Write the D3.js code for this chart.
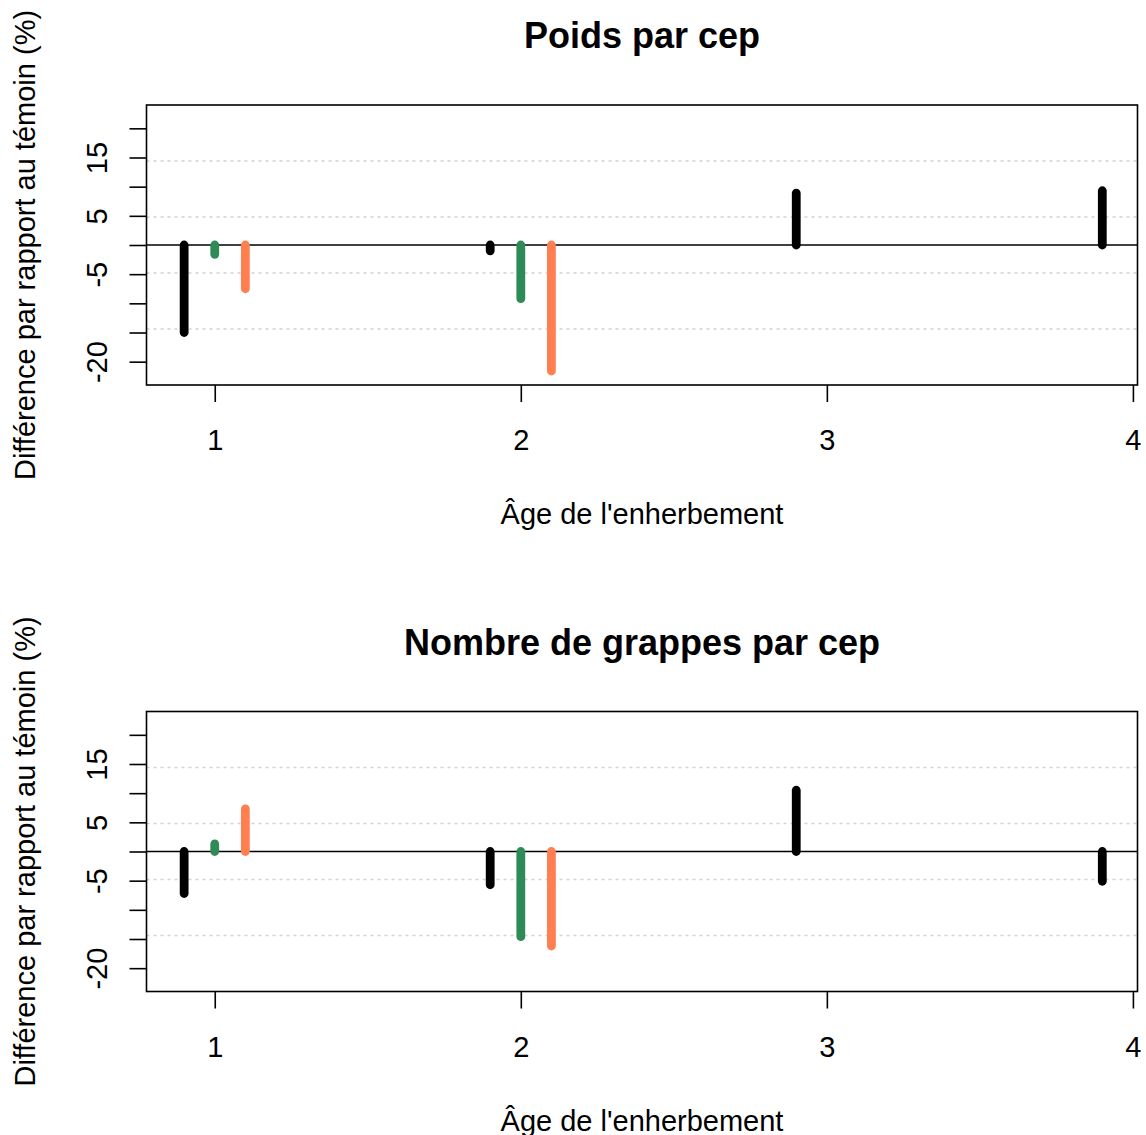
<!DOCTYPE html>
<html>
<head>
<meta charset="utf-8">
<script src="https://cdn.jsdelivr.net/npm/d3@7"></script>
<style>
  html, body { margin: 0; padding: 0; background: #fff; }
  svg { display: block; font-family: "Liberation Sans", Arial, Helvetica, sans-serif; }
</style>
</head>
<body>
<svg id="chart" width="1146" height="1135"></svg>
<script>
// ---- Data ----
const positions = [0.9, 1.0, 1.1, 1.9, 2.0, 2.1, 2.9, 3.9];
const treatments = ["A", "B", "C", "A", "B", "C", "A", "A"];
const poidsParCep = [-15.0, -1.6, -7.5, -1.0, -9.2, -21.6, 8.9, 9.3];
const grappesParCep = [-7.2, 1.3, 7.3, -5.7, -14.6, -16.2, 10.5, -5.1];
const panelTitles = ["Poids par cep", "Nombre de grappes par cep"];
const xTicks = [1, 2, 3, 4];
const yTicks = [-20, -15, -10, -5, 0, 5, 10, 15, 20];
const yTickLabels = [-20, -5, 5, 15];
const xLabel = "Âge de l'enherbement";
const yLabel = "Différence par rapport au témoin (%)";

// ---- Styles ----
const colorOf = { A: "#000000", B: "#2E8B57", C: "#FF7F50" };

const svg = d3.select("#chart");
const boxL = 146.5, boxR = 1137.5;
const panelH = 280;
const panelTops = [105, 711.5];

const x = d3.scaleLinear().domain([0.777, 4.015]).range([boxL, boxR]);

function drawPanel(g, values, title, top) {
  const y = d3.scaleLinear().domain([-24, 24]).range([top + panelH, top]);
  const bottom = top + panelH;

  // grid (5 equal divisions of plot height, like R grid())
  const gridVals = d3.range(1, 5).map(k => 24 - k * 48 / 5);
  g.append("g").selectAll("line").data(gridVals).join("line")
    .attr("x1", boxL).attr("x2", boxR)
    .attr("y1", d => y(d)).attr("y2", d => y(d))
    .attr("stroke", "#d3d3d3").attr("stroke-width", 1.4)
    .attr("stroke-dasharray", "3,4");

  // zero line
  g.append("line")
    .attr("x1", boxL).attr("x2", boxR)
    .attr("y1", y(0)).attr("y2", y(0))
    .attr("stroke", "#000").attr("stroke-width", 1.6);

  // bars
  g.append("g").selectAll("line").data(positions.map((p, i) => ({ p, v: values[i], t: treatments[i] })))
    .join("line")
    .attr("x1", d => x(d.p)).attr("x2", d => x(d.p))
    .attr("y1", y(0)).attr("y2", d => y(d.v))
    .attr("stroke", d => colorOf[d.t])
    .attr("stroke-width", 8.8)
    .attr("stroke-linecap", "round");

  // box
  g.append("rect")
    .attr("x", boxL).attr("y", top)
    .attr("width", boxR - boxL).attr("height", panelH)
    .attr("fill", "none").attr("stroke", "#000").attr("stroke-width", 1.6);

  // x axis
  const xa = g.append("g").attr("transform", `translate(0,${bottom})`)
    .call(d3.axisBottom(x).tickValues(xTicks).tickSize(17).tickFormat(d3.format("d")));
  xa.select(".domain").remove();
  xa.selectAll(".tick line").attr("stroke", "#000").attr("stroke-width", 1.6);
  xa.selectAll(".tick text").attr("y", 65).attr("dy", 0)
    .attr("font-size", 29).attr("fill", "#000")
    .attr("font-family", "Liberation Sans, Arial, sans-serif");

  // y axis
  const ya = g.append("g").attr("transform", `translate(${boxL},0)`)
    .call(d3.axisLeft(y).tickValues(yTicks).tickSize(17)
      .tickFormat(d => yTickLabels.includes(d) ? String(d) : ""));
  ya.select(".domain").remove();
  ya.selectAll(".tick line").attr("stroke", "#000").attr("stroke-width", 1.6);
  ya.selectAll(".tick text")
    .attr("x", 0).attr("dy", 0).attr("y", 0)
    .attr("transform", "translate(-40,0) rotate(-90)")
    .attr("text-anchor", "middle")
    .attr("font-size", 29).attr("fill", "#000")
    .attr("font-family", "Liberation Sans, Arial, sans-serif");

  // title
  g.append("text")
    .attr("x", (boxL + boxR) / 2).attr("y", top - 57)
    .attr("text-anchor", "middle")
    .attr("font-size", 36).attr("font-weight", "bold")
    .text(title);

  // x label
  g.append("text")
    .attr("x", (boxL + boxR) / 2).attr("y", bottom + 139)
    .attr("text-anchor", "middle")
    .attr("font-size", 29)
    .text(xLabel);

  // y label
  g.append("text")
    .attr("transform", `translate(35,${top + panelH / 2}) rotate(-90)`)
    .attr("text-anchor", "middle")
    .attr("font-size", 29)
    .text(yLabel);
}

drawPanel(svg.append("g"), poidsParCep, panelTitles[0], panelTops[0]);
drawPanel(svg.append("g"), grappesParCep, panelTitles[1], panelTops[1]);
</script>
</body>
</html>
